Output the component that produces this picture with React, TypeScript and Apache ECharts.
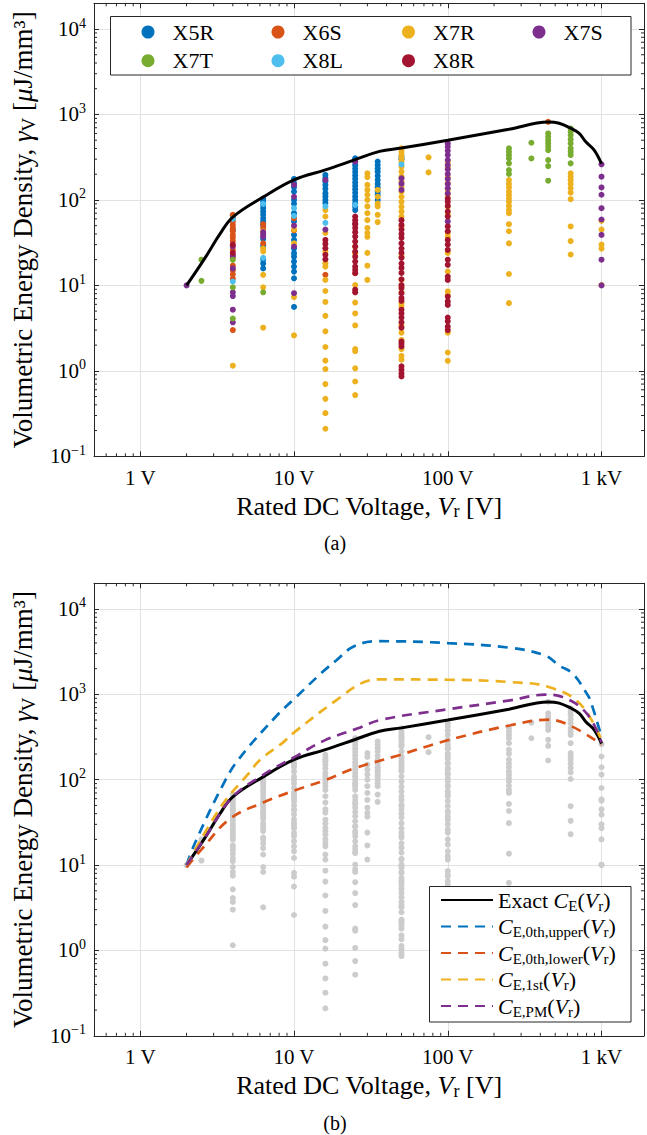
import React, { useEffect, useRef } from 'react';
import * as echarts from 'echarts';

// ---------- data (rated voltage [V], energy density [uJ/mm^3]) ----------
type Col = [number, number[]];

const X5R: Col[] = [
  [4, [66, 45]],
  [6.3, [104, 96, 87, 80, 73, 67, 61, 56, 51, 35, 29, 20, 18, 15.8]],
  [10, [176, 157, 141, 125, 100, 90, 70, 56, 39, 34, 27, 23.8, 21.7, 19, 16.6, 14.5, 12.1, 5.6]],
  [16, [196, 180, 165, 150, 135, 120, 110, 100, 92]],
  [25, [307, 280, 255, 232, 212, 193, 176, 160, 146, 133, 121, 110, 100, 91, 83, 76]],
  [35, [281, 256, 234, 214, 191, 171, 154, 140, 125, 115, 100]],
  [50, [320, 300]],
];
const X6S: Col[] = [
  [4, [67, 61, 56, 51, 47, 43, 39, 36, 33, 26, 21, 17, 15, 13.5, 12, 3.0]],
  [6.3, [52, 47, 31]],
  [10, [61, 44]],
  [16, [13.3]],
  [450, [821]],
];
const X7R: Col[] = [
  [4, [1.15]],
  [6.3, [43, 41, 27, 25, 13.3, 9.5, 3.2]],
  [10, [45, 31, 7.3, 2.6]],
  [16, [76, 64, 41, 24.9, 18.2, 16.6, 11.6, 8.6, 6.4, 4.4, 2.9, 1.9, 1.32, 1.05, 0.7, 0.47, 0.32, 0.21]],
  [25, [28.4, 23.8, 13.9, 10.1, 6.3, 4.7, 3.4, 1.8, 1.7, 1.07, 0.75, 0.52]],
  [30, [205, 185, 150, 131, 115, 100, 84, 70, 58, 47, 41, 37, 24, 17, 11.6]],
  [35, [131, 109, 91, 84, 67, 55]],
  [50, [401, 366, 340, 310, 280, 245, 214, 187, 163, 143, 125, 109, 95, 83, 73, 64, 49, 22, 11.6, 9.7, 8.3, 6.2, 5.7, 3.4, 2.8, 2.3, 1.8, 1.5, 1.35]],
  [75, [315, 210]],
  [100, [280, 240, 187, 156, 131, 114, 83, 67, 41, 37, 24, 14.5, 8.5, 7.7, 2.8, 1.64, 1.31]],
  [250, [171, 154, 140, 125, 114, 104, 95, 85, 76, 70, 52, 43, 31, 13.6, 6.2]],
  [630, [205, 187, 171, 154, 137, 122, 102, 49, 33, 23]],
  [1000, [57, 45, 30, 27, 10.1]],
];
const X7S: Col[] = [
  [2, [10]],
  [4, [28.5, 22.3, 15.8, 8.3, 7.5, 5.2, 3.7]],
  [6.3, [42, 39, 37]],
  [10, [150, 109, 50, 28.5, 8.1]],
  [16, [171, 45]],
  [25, [280, 53]],
  [50, [179, 155, 131]],
  [100, [458, 419, 376, 335, 293, 256, 228, 201, 176, 154, 137, 119, 56]],
  [1000, [261, 187, 140, 115, 80, 59, 39, 20, 10]],
];
const X7T: Col[] = [
  [2.5, [20, 11.3]],
  [4, [19.9, 9.5, 4.1]],
  [6.3, [8.3]],
  [250, [401, 366, 335, 306, 268, 224, 201]],
  [350, [467, 306]],
  [450, [600, 548, 501, 458, 419, 383, 293, 249, 168]],
  [630, [685, 627, 574, 511, 458, 401, 366, 335, 268]],
];
const X8L: Col[] = [
  [4, [60, 11.1]],
  [6.3, [90, 21]],
  [10, [80, 65]],
  [16, [84, 54]],
  [25, [87.5]],
  [50, [260]],
];
const X8R: Col[] = [
  [4, [30, 24]],
  [16, [34, 30.6, 27.2, 22.8, 20.2]],
  [25, [64, 58, 52, 47, 42, 37.3, 32.6, 28.5, 24.9, 21.7, 19, 16.6, 15.2, 13.9, 8.9, 8.3]],
  [50, [58, 51, 45, 40, 36, 31, 27, 24, 21, 18, 16, 14, 11.8, 10.1, 9.3, 8.1, 7.1, 6.6, 5.2, 4.7, 4.2, 3.7, 3.2, 2.2, 2.07, 1.93, 1.13, 1.03, 0.93, 0.86]],
  [100, [104, 95, 85, 73, 64, 49, 43, 34, 30, 26, 20, 17.4, 12.7, 11.6, 7.4, 6.5, 5.9, 4.2, 3.8, 3.3, 3.0]],
];

const EXACT: [number, number][] = [
  [2, 10], [2.64, 21], [3.3, 40], [4, 63], [6.3, 108], [10, 172], [16, 225], [25, 296], [36, 370],
  [50, 405], [100, 500], [250, 670], [450, 815], [530, 790], [634, 687], [716, 600], [790, 479],
  [896, 383], [1000, 265],
];
const UPPER: [number, number][] = [
  [2, 10], [2.28, 18.5], [3.47, 89], [4.4, 177], [7.76, 569], [9.8, 851], [15.3, 1823],
  [18.8, 2494], [24.4, 3634], [35, 4196], [100, 3985], [255, 3508], [430, 2851], [529, 2183],
  [651, 1741], [803, 1019], [846, 851], [1000, 318],
];
const LOWER: [number, number][] = [
  [2, 9.4], [2.52, 15.5], [3.83, 34.8], [6.3, 54], [10, 74.5], [15.7, 98], [25, 137], [47, 191],
  [100, 290], [255, 434], [453, 505], [651, 416], [1000, 258],
];
const FIRST: [number, number][] = [
  [2, 10], [3.39, 50], [5.04, 117], [6, 170], [8.5, 274], [9.8, 347], [18.8, 851], [28.6, 1393],
  [37, 1496], [100, 1483], [255, 1393], [453, 1218], [723, 778], [1000, 290],
];
const PM: [number, number][] = [
  [2, 10], [2.64, 21], [3.93, 61], [6.3, 114], [10, 183], [15.7, 287], [25.7, 397], [37, 505],
  [100, 668], [255, 851], [430, 991], [557, 930], [803, 595], [1000, 275],
];

const FAMILIES: { name: string; color: string; cols: Col[] }[] = [
  { name: 'X5R', color: '#0072BD', cols: X5R },
  { name: 'X6S', color: '#D95319', cols: X6S },
  { name: 'X7R', color: '#EDB120', cols: X7R },
  { name: 'X7S', color: '#7E2F8E', cols: X7S },
  { name: 'X7T', color: '#77AC30', cols: X7T },
  { name: 'X8L', color: '#4DBEEE', cols: X8L },
  { name: 'X8R', color: '#A2142F', cols: X8R },
];

const X_LABELS: Record<number, string> = { 0: '1 V', 1: '10 V', 2: '100 V', 3: '1 kV' };
const X_MIN = 0.5;
const X_MAX = 1890;
const Y_MIN = 0.1;
const Y_MAX = 20000;

// ---------- helpers ----------
const FONT = 'Liberation Serif';
const AXIS_COLOR = '#262626';
const GRID_COLOR = '#e2e2e2';
const SMOOTH = 0.4;

const flatten = (cols: Col[]) => cols.flatMap(([v, gs]) => gs.map((g) => [v, g]));

const minorValues = (lo: number, hi: number) => {
  const out: number[] = [];
  for (let e = -2; e <= 5; e++) {
    for (let m = 2; m <= 9; m++) {
      const v = m * Math.pow(10, e);
      if (v > lo * 1.0001 && v < hi * 0.9999) out.push(v);
    }
  }
  return out;
};

const isPow10 = (v: number) => Math.abs(Math.log10(v) - Math.round(Math.log10(v))) < 1e-6;

const makeNameRich = (size: number) => ({
  n: { fontSize: size, fontFamily: FONT, color: '#000', lineHeight: 30 },
  i: { fontSize: size, fontFamily: FONT, fontStyle: 'italic', color: '#000', lineHeight: 30 },
  s: { fontSize: Math.round(size * 0.7), fontFamily: FONT, color: '#000', lineHeight: 18, padding: [11, 0, 0, 0], verticalAlign: 'top' },
});

const xAxisDef = (gridIndex: number, position: 'bottom' | 'top') => ({
  type: 'log',
  logBase: 10,
  min: X_MIN,
  max: X_MAX,
  gridIndex,
  position,
  axisLine: { show: true, onZero: false, lineStyle: { color: AXIS_COLOR, width: 1 } },
  axisTick: { show: true, inside: true, length: 5, lineStyle: { color: AXIS_COLOR, width: 1 } },
  axisLabel: {
    show: position === 'bottom',
    margin: 11,
    fontSize: 21,
    fontFamily: FONT,
    color: '#000',
    formatter: (v: number) => (isPow10(v) ? X_LABELS[Math.round(Math.log10(v))] ?? '' : ''),
  },
  splitLine: { show: position === 'bottom', lineStyle: { color: GRID_COLOR, width: 1 } },
  name: position === 'bottom' ? '{n|Rated DC Voltage, }{i|V}{s|r}{n| [V]}' : '',
  nameLocation: 'middle',
  nameGap: 35,
  nameTextStyle: { fontFamily: FONT, fontSize: 26, color: '#000', rich: makeNameRich(26) },
});

const yAxisDef = (gridIndex: number, position: 'left' | 'right') => ({
  type: 'log',
  logBase: 10,
  min: Y_MIN,
  max: Y_MAX,
  gridIndex,
  position,
  axisLine: { show: true, onZero: false, lineStyle: { color: AXIS_COLOR, width: 1 } },
  axisTick: { show: true, inside: true, length: 5, lineStyle: { color: AXIS_COLOR, width: 1 } },
  axisLabel: {
    show: position === 'left',
    margin: 8,
    fontFamily: FONT,
    formatter: (v: number) => {
      if (!isPow10(v)) return '';
      const e = Math.round(Math.log10(v));
      return `{b|10}{s|${e < 0 ? '\u2212' + -e : e}}`;
    },
    rich: {
      b: { fontSize: 21, fontFamily: FONT, color: '#000', lineHeight: 26 },
      s: { fontSize: 14, fontFamily: FONT, color: '#000', lineHeight: 14, verticalAlign: 'top' },
    },
  },
  splitLine: { show: position === 'left', lineStyle: { color: GRID_COLOR, width: 1 } },
  name: position === 'left' ? '{n|Volumetric Energy Density, }{i|\u03b3}{s|V}{n| [}{i|\u03bc}{n|J/mm\u00b3]}' : '',
  nameLocation: 'middle',
  nameGap: 56,
  nameTextStyle: { fontFamily: FONT, fontSize: 27, color: '#000', rich: makeNameRich(27) },
});

const minorTickSeries = (axisIdx: number, dir: 'x' | 'y') => ({
  type: 'custom',
  xAxisIndex: axisIdx,
  yAxisIndex: axisIdx,
  silent: true,
  clip: false,
  z: 5,
  data: dir === 'x' ? minorValues(X_MIN, X_MAX).map((v) => [v, 1]) : minorValues(Y_MIN, Y_MAX).map((v) => [1, v]),
  renderItem: (params: any, api: any) => {
    const cs = params.coordSys;
    const st = { stroke: AXIS_COLOR, lineWidth: 1 };
    const L = 3;
    if (dir === 'x') {
      const px = api.coord([api.value(0), 1])[0];
      return {
        type: 'group',
        children: [
          { type: 'line', shape: { x1: px, y1: cs.y + cs.height, x2: px, y2: cs.y + cs.height - L }, style: st },
          { type: 'line', shape: { x1: px, y1: cs.y, x2: px, y2: cs.y + L }, style: st },
        ],
      };
    }
    const py = api.coord([1, api.value(1)])[1];
    return {
      type: 'group',
      children: [
        { type: 'line', shape: { x1: cs.x, y1: py, x2: cs.x + L, y2: py }, style: st },
        { type: 'line', shape: { x1: cs.x + cs.width, y1: py, x2: cs.x + cs.width - L, y2: py }, style: st },
      ],
    };
  },
});

const legRich = {
  r: { fontSize: 22, fontFamily: FONT, color: '#000', lineHeight: 22 },
  i: { fontSize: 22, fontFamily: FONT, fontStyle: 'italic', color: '#000', lineHeight: 22 },
  s: { fontSize: 15, fontFamily: FONT, color: '#000', lineHeight: 12, padding: [9, 0, 0, 0], verticalAlign: 'top' },
};
const LEGEND_TEXT: Record<string, string> = {
  Exact: '{r|Exact }{i|C}{s|E}{r|(}{i|V}{s|r}{r|)}',
  upper: '{i|C}{s|E,0th,upper}{r|(}{i|V}{s|r}{r|)}',
  lower: '{i|C}{s|E,0th,lower}{r|(}{i|V}{s|r}{r|)}',
  '1st': '{i|C}{s|E,1st}{r|(}{i|V}{s|r}{r|)}',
  PM: '{i|C}{s|E,PM}{r|(}{i|V}{s|r}{r|)}',
};

export default function App() {
  const ref = useRef<HTMLDivElement>(null);

  useEffect(() => {
    document.body.style.margin = '0';
    if (!ref.current) return;
    const chart = echarts.init(ref.current, undefined, { renderer: 'svg' });

    const allPoints = FAMILIES.flatMap((f) => flatten(f.cols));

    const scatterTop = FAMILIES.map((f) => ({
      type: 'scatter',
      name: f.name,
      xAxisIndex: 0,
      yAxisIndex: 0,
      data: flatten(f.cols),
      symbol: 'circle',
      symbolSize: 6,
      itemStyle: { color: f.color, opacity: 1 },
      z: 2,
    }));

    const curve = (name: string, data: [number, number][], color: string, dashedLine: boolean) => ({
      type: 'line',
      name,
      xAxisIndex: 2,
      yAxisIndex: 2,
      data,
      symbol: 'none',
      smooth: SMOOTH,
      itemStyle: { color },
      lineStyle: { color, width: dashedLine ? 2.7 : 3, type: dashedLine ? [10, 7] : 'solid' },
      z: 4,
    });

    const legendCols = [
      { left: 136.5, data: ['X5R', 'X7T'] },
      { left: 266.5, data: ['X6S', 'X8L'] },
      { left: 397, data: ['X7R', 'X8R'] },
      { left: 527.5, data: ['X7S'] },
    ];

    const option: any = {
      animation: false,
      textStyle: { fontFamily: FONT },
      grid: [
        { left: 91.3, top: 3.3, width: 553.7, height: 453, containLabel: false },
        { left: 91.3, top: 583.3, width: 553.7, height: 452.5, containLabel: false },
      ],
      xAxis: [xAxisDef(0, 'bottom'), xAxisDef(0, 'top'), xAxisDef(1, 'bottom'), xAxisDef(1, 'top')],
      yAxis: [yAxisDef(0, 'left'), yAxisDef(0, 'right'), yAxisDef(1, 'left'), yAxisDef(1, 'right')],
      legend: [
        ...legendCols.map((c) => ({
          orient: 'vertical',
          left: c.left,
          top: 16,
          itemWidth: 13,
          itemHeight: 13,
          itemGap: 6.7,
          icon: 'circle',
          selectedMode: false,
          z: 10,
          data: c.data,
          formatter: (name: string) => `{sp| }{t|${name}}`,
          textStyle: {
            fontFamily: FONT,
            fontSize: 22,
            color: '#000',
            rich: {
              sp: { width: 13, fontSize: 10, lineHeight: 20, fontFamily: FONT },
              t: { fontSize: 22, fontFamily: FONT, color: '#000', lineHeight: 20 },
            },
          },
        })),
        {
          orient: 'vertical',
          left: 435,
          top: 884,
          itemWidth: 52,
          itemHeight: 14,
          itemGap: 2.5,
          selectedMode: false,
          z: 10,
          itemStyle: { opacity: 0 },
          data: ['Exact', 'upper', 'lower', '1st', 'PM'],
          formatter: (name: string) => LEGEND_TEXT[name] ?? name,
          textStyle: { fontFamily: FONT, fontSize: 22, color: '#000', rich: legRich },
        },
      ],
      graphic: [
        {
          type: 'rect',
          z: 9,
          shape: { x: 110.5, y: 16.5, width: 520.5, height: 58.5 },
          style: { fill: '#fff', stroke: AXIS_COLOR, lineWidth: 1 },
        },
        {
          type: 'rect',
          z: 9,
          shape: { x: 429.5, y: 886.5, width: 201.5, height: 135.5 },
          style: { fill: '#fff', stroke: AXIS_COLOR, lineWidth: 1 },
        },
        {
          type: 'text',
          x: 335,
          y: 543,
          style: { text: '(a)', fontSize: 20, fontFamily: FONT, fill: '#000', align: 'center', verticalAlign: 'middle' },
        },
        {
          type: 'text',
          x: 335,
          y: 1123,
          style: { text: '(b)', fontSize: 20, fontFamily: FONT, fill: '#000', align: 'center', verticalAlign: 'middle' },
        },
      ],
      series: [
        ...scatterTop,
        {
          type: 'line',
          name: 'exact-top',
          xAxisIndex: 0,
          yAxisIndex: 0,
          data: EXACT,
          symbol: 'none',
          smooth: SMOOTH,
          lineStyle: { color: '#000', width: 3 },
          z: 4,
        },
        {
          type: 'scatter',
          name: 'all-gray',
          xAxisIndex: 2,
          yAxisIndex: 2,
          data: allPoints,
          symbol: 'circle',
          symbolSize: 6,
          itemStyle: { color: '#cccccc', opacity: 1 },
          z: 2,
        },
        curve('Exact', EXACT, '#000000', false),
        curve('upper', UPPER, '#0072BD', true),
        curve('lower', LOWER, '#D95319', true),
        curve('1st', FIRST, '#EDB120', true),
        curve('PM', PM, '#7E2F8E', true),
        minorTickSeries(0, 'x'),
        minorTickSeries(0, 'y'),
        minorTickSeries(2, 'x'),
        minorTickSeries(2, 'y'),
      ],
    };

    chart.setOption(option);
    return () => chart.dispose();
  }, []);

  return <div ref={ref} style={{ width: 647, height: 1135 }} />;
}
